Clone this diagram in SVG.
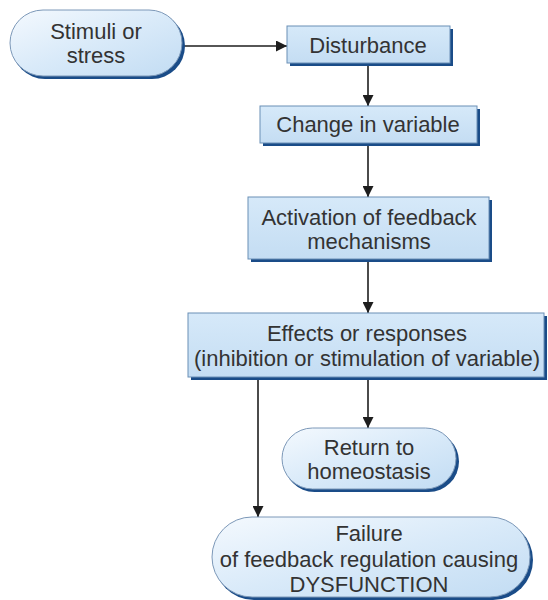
<svg xmlns="http://www.w3.org/2000/svg" width="548" height="600" viewBox="0 0 548 600">
  <defs>
    <linearGradient id="boxFill" x1="0" y1="0" x2="0" y2="1">
      <stop offset="0" stop-color="#d6e9f9"/>
      <stop offset="1" stop-color="#c4ddf3"/>
    </linearGradient>
    <linearGradient id="pillFill" x1="0" y1="0" x2="1" y2="1">
      <stop offset="0" stop-color="#f4f9fe"/>
      <stop offset="0.5" stop-color="#d9eaf9"/>
      <stop offset="1" stop-color="#c2dcf3"/>
    </linearGradient>
    <marker id="arrow" viewBox="0 0 10 10" refX="10" refY="5" markerWidth="11" markerHeight="11" markerUnits="userSpaceOnUse" orient="auto">
      <path d="M0,0 L10,5 L0,10 z" fill="#1e1e1e"/>
    </marker>
  </defs>
  <style>
    .shadow { fill: #1a4c88; }
    .box { fill: url(#boxFill); stroke: #6a8fb6; stroke-width: 1; }
    .pill { fill: url(#pillFill); stroke: #7c98b8; stroke-width: 1; }
    .label { font-family: "Liberation Sans", Arial, sans-serif; font-size: 22px; fill: #333333; text-anchor: middle; }
    .conn { stroke: #1e1e1e; stroke-width: 1.6; fill: none; marker-end: url(#arrow); }
  </style>

  <rect width="548" height="600" fill="#ffffff"/>

  <!-- connectors -->
  <g id="connectors">
    <line class="conn" x1="184" y1="46" x2="287" y2="46"/>
    <line class="conn" x1="368" y1="64" x2="368" y2="106"/>
    <line class="conn" x1="368" y1="145" x2="368" y2="197"/>
    <line class="conn" x1="368" y1="261" x2="368" y2="313"/>
    <line class="conn" x1="368" y1="379" x2="368" y2="428"/>
    <line class="conn" x1="258" y1="379" x2="258" y2="517"/>
  </g>

  <!-- stimuli -->
  <g id="stimuli">
    <rect class="shadow" x="12" y="13" width="173" height="66" rx="33"/>
    <rect class="pill" x="10" y="10" width="172" height="66" rx="33"/>
    <text class="label" x="96" y="39">Stimuli or</text>
    <text class="label" x="96" y="63">stress</text>
  </g>

  <!-- disturbance -->
  <g id="disturbance">
    <rect class="shadow" x="290" y="29" width="163" height="37"/>
    <rect class="box" x="287" y="26" width="163" height="37"/>
    <text class="label" x="368" y="53">Disturbance</text>
  </g>

  <!-- change in variable -->
  <g id="change">
    <rect class="shadow" x="263" y="109" width="217" height="37"/>
    <rect class="box" x="260" y="106" width="217" height="37"/>
    <text class="label" x="368" y="132">Change in variable</text>
  </g>

  <!-- activation -->
  <g id="activation">
    <rect class="shadow" x="251" y="200" width="241" height="62"/>
    <rect class="box" x="248" y="197" width="241" height="62"/>
    <text class="label" x="369" y="225">Activation of feedback</text>
    <text class="label" x="369" y="249">mechanisms</text>
  </g>

  <!-- effects -->
  <g id="effects">
    <rect class="shadow" x="191" y="316" width="356" height="64"/>
    <rect class="box" x="188" y="313" width="356" height="64"/>
    <text class="label" x="367" y="341">Effects or responses</text>
    <text class="label" x="367" y="366">(inhibition or stimulation of variable)</text>
  </g>

  <!-- return to homeostasis -->
  <g id="homeostasis">
    <rect class="shadow" x="284" y="431" width="175" height="61" rx="30.5"/>
    <rect class="pill" x="282" y="428" width="174" height="61" rx="30.5"/>
    <text class="label" x="369" y="455">Return to</text>
    <text class="label" x="369" y="479">homeostasis</text>
  </g>

  <!-- failure -->
  <g id="failure">
    <rect class="shadow" x="214" y="520" width="319" height="80" rx="40"/>
    <rect class="pill" x="212" y="517" width="318" height="80" rx="40"/>
    <text class="label" x="369" y="541">Failure</text>
    <text class="label" x="369" y="567">of feedback regulation causing</text>
    <text class="label" x="369" y="592">DYSFUNCTION</text>
  </g>
</svg>
